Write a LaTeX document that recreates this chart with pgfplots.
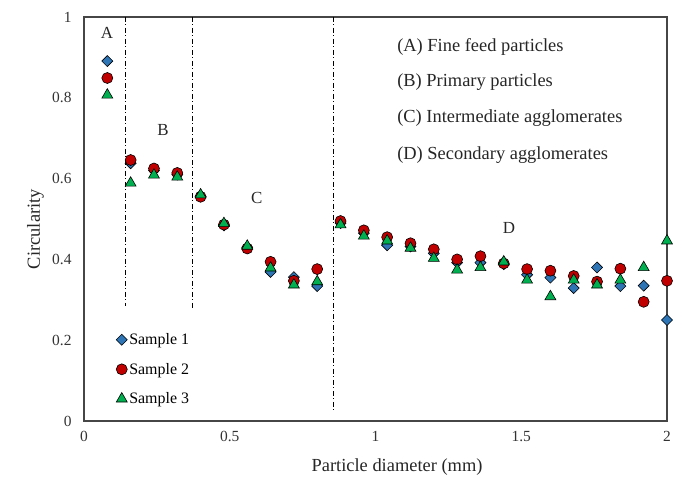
\documentclass[border=0pt]{standalone}
\usepackage{fontspec}
\setmainfont{Liberation Serif}
\usepackage{pgfplots}
\pgfplotsset{compat=1.18}
\definecolor{sblue}{RGB}{46,117,182}
\definecolor{sred}{RGB}{192,0,0}
\definecolor{sgreen}{RGB}{0,176,80}
\definecolor{framec}{RGB}{70,70,70}
\begin{document}
\begin{tikzpicture}
\path[use as bounding box] (0,0) rectangle (682bp,478bp);
\begin{axis}[
  at={(84bp,57bp)}, anchor=south west,
  width=583bp, height=404bp, scale only axis,
  xmin=0, xmax=2, ymin=0, ymax=1,
  xtick={0,0.5,1,1.5,2}, ytick={0,0.2,0.4,0.6,0.8,1},
  major tick length=0pt,
  axis line style={framec, line width=1.6bp},
  /pgf/number format/assume math mode=true,
  tick label style={font=\fontsize{15.5}{16}\selectfont, text=black!80},
  xticklabel style={yshift=-7bp},
  yticklabel style={xshift=-9bp},
  xlabel={Particle diameter (mm)},
  ylabel={Circularity},
  label style={font=\fontsize{18.5}{19}\selectfont, text=black!85},
  xlabel style={at={(rel axis cs:0.537,0)}, anchor=base, yshift=-50bp},
  ylabel style={at={(rel axis cs:0,0.475)}, anchor=base, yshift=44bp},
  clip=false,
  legend style={draw=none, fill=none, at={(rel axis cs:0.055,0.222)}, anchor=north west,
    font=\fontsize{16}{16}\selectfont, row sep=13bp, inner sep=0pt},
  legend cell align=left,
]
\addplot[black, line width=1bp, dash pattern=on 5bp off 2.5bp on 1bp off 2.5bp, forget plot] coordinates {(0.142,1) (0.142,0.285)};
\addplot[black, line width=1bp, dash pattern=on 5bp off 2.5bp on 1bp off 2.5bp, forget plot] coordinates {(0.373,1) (0.373,0.275)};
\addplot[black, line width=1bp, dash pattern=on 5bp off 2.5bp on 1bp off 2.5bp, forget plot] coordinates {(0.855,1) (0.855,0.027)};
\addplot[only marks, mark=square*, mark size=3.9bp, mark options={rotate=45, fill=sblue, draw=black, line width=0.6bp}] coordinates {
(0.08,0.891)(0.16,0.638)(0.24,0.620)(0.32,0.610)(0.40,0.556)(0.48,0.484)(0.56,0.430)(0.64,0.369)(0.72,0.356)(0.80,0.334)
(0.88,0.490)(0.96,0.465)(1.04,0.435)(1.12,0.432)(1.20,0.415)(1.28,0.392)(1.36,0.392)(1.44,0.388)(1.52,0.362)(1.60,0.355)
(1.68,0.329)(1.76,0.380)(1.84,0.334)(1.92,0.335)(2.00,0.250)};
\addlegendentry{Sample 1}
\addplot[only marks, mark=*, mark size=5.5bp, mark options={fill=sred, draw=black, line width=0.6bp}] coordinates {
(0.08,0.849)(0.16,0.646)(0.24,0.625)(0.32,0.614)(0.40,0.555)(0.48,0.486)(0.56,0.427)(0.64,0.394)(0.72,0.347)(0.80,0.376)
(0.88,0.495)(0.96,0.472)(1.04,0.455)(1.12,0.440)(1.20,0.425)(1.28,0.400)(1.36,0.408)(1.44,0.390)(1.52,0.376)(1.60,0.372)
(1.68,0.359)(1.76,0.345)(1.84,0.377)(1.92,0.295)(2.00,0.347)};
\addlegendentry{Sample 2}
\addplot[only marks, mark=triangle*, mark size=6.3bp, mark options={fill=sgreen, draw=black, line width=0.6bp}] coordinates {
(0.08,0.807)(0.16,0.589)(0.24,0.609)(0.32,0.604)(0.40,0.560)(0.48,0.489)(0.56,0.433)(0.64,0.379)(0.72,0.337)(0.80,0.345)
(0.88,0.486)(0.96,0.458)(1.04,0.446)(1.12,0.428)(1.20,0.403)(1.28,0.374)(1.36,0.380)(1.44,0.394)(1.52,0.349)(1.60,0.308)
(1.68,0.349)(1.76,0.337)(1.84,0.349)(1.92,0.380)(2.00,0.446)};
\addlegendentry{Sample 3}
\begin{scope}[every node/.style={font=\fontsize{17}{17}\selectfont, text=black!85}]
\node at (axis cs:0.079,0.960) {A};
\node at (axis cs:0.271,0.720) {B};
\node at (axis cs:0.593,0.552) {C};
\node at (axis cs:1.458,0.478) {D};
\end{scope}
\begin{scope}[every node/.style={font=\fontsize{18.5}{19}\selectfont, text=black!85, anchor=west, inner sep=0pt}]
\node at (axis cs:1.074,0.926) {(A) Fine feed particles};
\node at (axis cs:1.074,0.839) {(B) Primary particles};
\node at (axis cs:1.074,0.750) {(C) Intermediate agglomerates};
\node at (axis cs:1.074,0.658) {(D) Secondary agglomerates};
\end{scope}
\end{axis}
\end{tikzpicture}
\end{document}
